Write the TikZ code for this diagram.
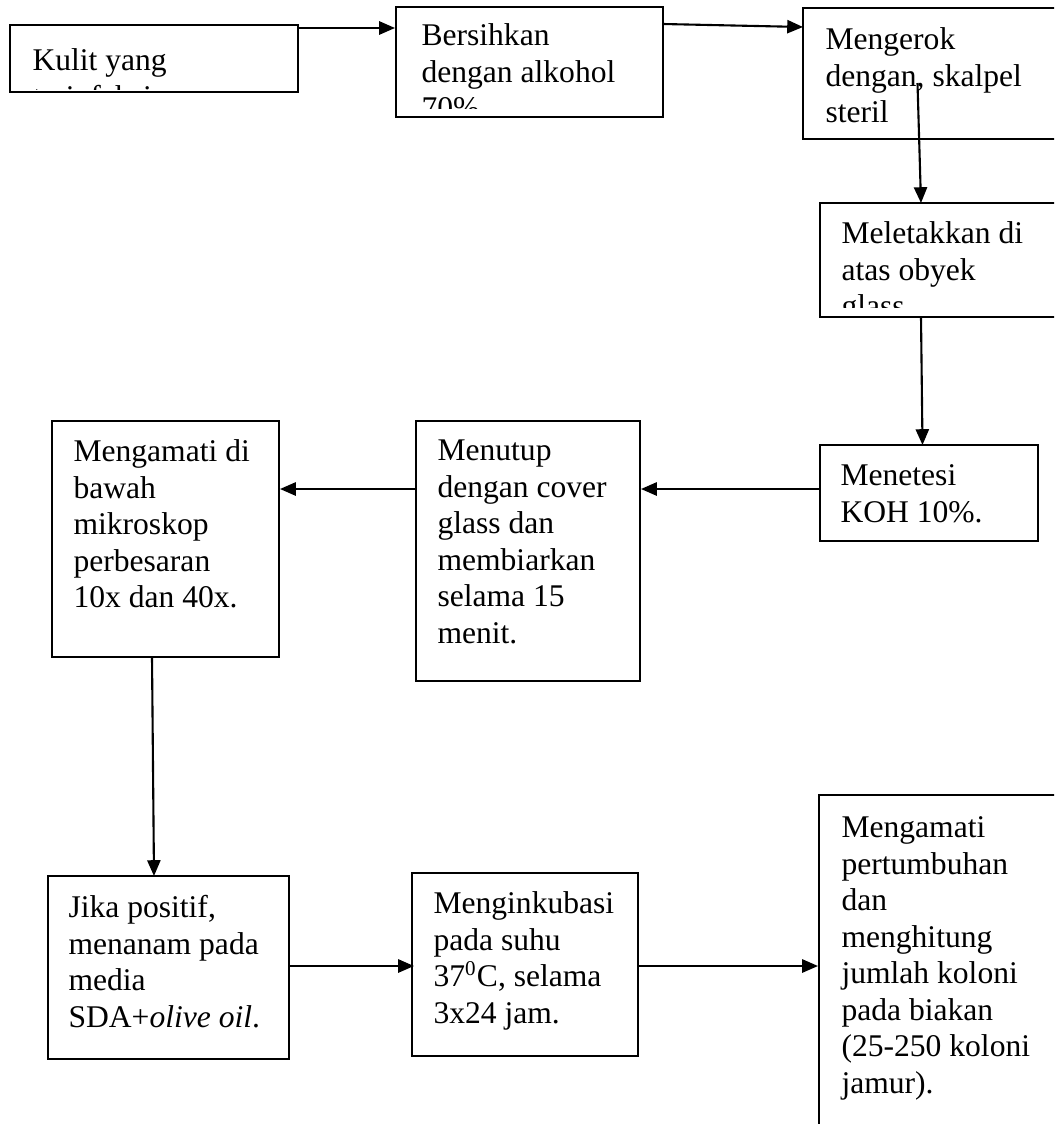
\documentclass[tikz,border=0pt]{standalone}
\usepackage{fontspec}
\setmainfont{Liberation Serif}
\usetikzlibrary{arrows.meta,fit}
\tikzset{
  box/.style={draw=black, line width=0.75pt, inner sep=0pt, fill=none},
  txt/.style={anchor=north west, inner sep=0pt, align=left, yshift=9.71pt,
              font=\fontsize{12}{13.87}\selectfont},
  arr/.style={draw=black, line width=0.8pt, -{Triangle[length=6pt,width=5pt]}}
}
\begin{document}
\begin{tikzpicture}[x=0.38pt, y=-0.38pt]
\clip (0,0) rectangle (1054,1124);
\fill[white] (0,0) rectangle (1054,1124);
% boxes
\node[box, fit={(10,25) (298,92)}] (b1) {};
\node[box, fit={(396,7) (663,117)}] (b2) {};
\node[box, fit={(803,8) (1080,139)}] (b3) {};
\node[box, fit={(820,203) (1080,317)}] (b4) {};
\node[box, fit={(820,445) (1038,541)}] (b5) {};
\node[box, fit={(416,421) (640,681)}] (b6) {};
\node[box, fit={(52,421) (279,657)}] (b7) {};
\node[box, fit={(48,876) (289,1059)}] (b8) {};
\node[box, fit={(412,873) (638,1056)}] (b9) {};
\node[box, fit={(819,795) (1080,1150)}] (b10) {};
% texts
\begin{scope}
\clip (11,26) rectangle (297,89);
\node[txt] (t1) at (32,70) {\strut Kulit yang\\terinfeksi};
\end{scope}
\begin{scope}
\clip (397,8) rectangle (662,108);
\node[txt] (t2) at (421,45) {\strut Bersihkan\\dengan alkohol\\70\%};
\end{scope}
\node[txt] (t3) at (825,49) {\strut Mengerok\\dengan, skalpel\\steril};
\begin{scope}
\clip (821,204) rectangle (1079,307);
\node[txt] (t4) at (841,243) {\strut Meletakkan di\\atas obyek\\glass};
\end{scope}
\node[txt] (t5) at (840,485) {\strut Menetesi\\KOH 10\%.};
\node[txt] (t6) at (437,460) {\strut Menutup\\dengan cover\\glass dan\\membiarkan\\selama 15\\menit.};
\node[txt] (t7) at (73,461) {\strut Mengamati di\\bawah\\mikroskop\\perbesaran\\10x dan 40x.};
\node[txt] (t8) at (68,917) {\strut Jika positif,\\menanam pada\\media\\SDA+\textit{olive oil}.};
\node[txt] (t9) at (433,913) {\strut Menginkubasi\\pada suhu\\37\textsuperscript{0}C, selama\\3x24 jam.};
\node[txt] (t10) at (841,837) {\strut Mengamati\\pertumbuhan\\dan\\menghitung\\jumlah koloni\\pada biakan\\(25-250 koloni\\jamur).};
% connector end points
\coordinate (s1) at (298,28);
\coordinate (s2) at (663,24);
\coordinate (e2) at (803,27);
\coordinate (s3) at (917.5,83);
\coordinate (e3) at (921,203);
\coordinate (s4) at (921,317);
\coordinate (e4) at (922.5,445);
\coordinate (s5) at (820,489);
\coordinate (s7) at (152,657);
\coordinate (e7) at (154,876);
\coordinate (s8) at (289,966);
\coordinate (e8) at (414,966);
\coordinate (s9) at (638,966);
% connectors
\draw[arr] (s1) -- (s1 -| b2.west);
\draw[arr] (s2) -- (e2);
\draw[arr] (s3) -- (e3);
\draw[arr] (s4) -- (e4);
\draw[arr] (s5) -- (s5 -| b6.east);
\draw[arr] (s5 -| b6.west) -- (s5 -| b7.east);
\draw[arr] (s7) -- (e7);
\draw[arr] (s8) -- (e8);
\draw[arr] (s9) -- (s9 -| b10.west);
\end{tikzpicture}
\end{document}
